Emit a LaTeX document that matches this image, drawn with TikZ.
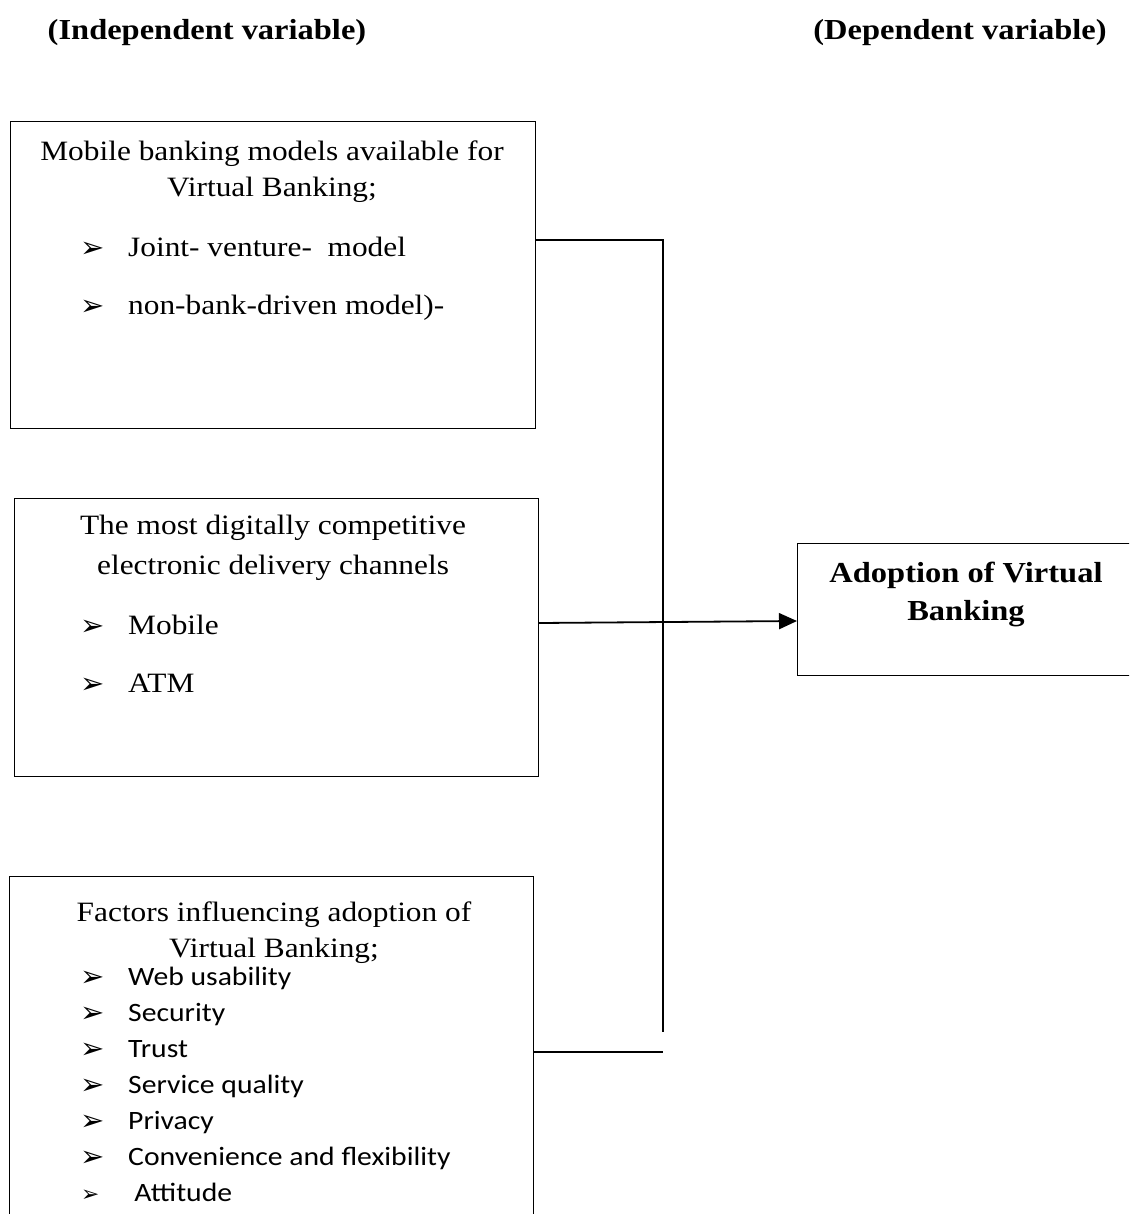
\documentclass[tikz,border=0pt]{standalone}
\usepackage{fontspec}
\setmainfont{Liberation Serif}[FakeStretch=1.12]
\newfontfamily\calibri{Carlito}[FakeStretch=1.12]
\newfontfamily\dingfont{DejaVu Sans}
\usetikzlibrary{arrows.meta}

\newcommand{\bul}[1][48pt]{\makebox[#1][l]{\raisebox{-1pt}{\dingfont\fontsize{29}{29}\selectfont ➢}}}

\tikzstyle{box}=[draw, line width=1.2pt, anchor=north west, inner sep=0pt]
\tikzstyle{txt}=[anchor=base, inner sep=0pt, font=\fontsize{28}{34}\selectfont]
\tikzstyle{item}=[anchor=base west, inner sep=0pt, font=\fontsize{28}{34}\selectfont]
\tikzstyle{citem}=[anchor=base west, inner sep=0pt, font=\calibri\fontsize{26.5}{30}\selectfont]
\tikzstyle{head}=[anchor=base, inner sep=0pt, font=\bfseries\fontsize{29}{34}\selectfont]
\tikzstyle{link}=[line width=1.8pt]

\begin{document}
\begin{tikzpicture}[x=1pt, y=-1pt]
    \useasboundingbox (0,0) rectangle (1129,1214);
    \clip (0,0) rectangle (1129,1214);

    \node[head] (indep) at (207,40) {(Independent variable)};
    \node[head] (dep) at (960,40) {(Dependent variable)};

    \node[box, minimum width=525pt, minimum height=307pt] (models) at (10,121) {};
    \node[box, minimum width=524pt, minimum height=278pt] (channels) at (14,498) {};
    \node[box, minimum width=524pt, minimum height=360pt] (factors) at (9,876) {};
    \node[box, minimum width=360pt, minimum height=132pt] (adopt) at (797,543) {};

    % models
    \node[txt] (m1) at (272,161) {Mobile banking models available for};
    \node[txt] (m2) at (272,197) {Virtual Banking;};
    \node[item] (m3) at (80,257) {\bul Joint- venture-\ \ model};
    \node[item] (m4) at (80,314) {\bul non-bank-driven model)-};

    % channels
    \node[txt] (c1) at (273,534) {The most digitally competitive};
    \node[txt] (c2) at (273,574) {electronic delivery channels};
    \node[item] (c3) at (80,634) {\bul Mobile};
    \node[item] (c4) at (80,692) {\bul ATM};

    % factors
    \node[txt] (f1) at (274,921) {Factors influencing adoption of};
    \node[txt] (f2) at (274,957) {Virtual Banking;};
    \foreach \t [count=\i] in {Web usability, Security, Trust, Service quality,
                               Privacy, Convenience and flexibility}
    {
      \node[citem] (f\i) at (80,949+36*\i) {\bul\t};
    }
    \node[citem] (f7) at (81,1201) {\scalebox{0.75}{\bul[71pt]}Attitude};

    % dependent
    \node[head] (a1) at (966,582) {Adoption of Virtual};
    \node[head] (a2) at (966,620) {Banking};

    \coordinate (jtop) at (663,240);
    \coordinate (jbot) at (663,1032);
    \coordinate (jend) at (663,1052);

    \draw[link] (models.east |- jtop) -- (jtop) -- (jbot);
    \draw[link] (factors.east |- jend) -- (jend);
    \draw[link, -{Triangle[length=18pt, width=16pt]}] (channels.east |- 0,623) -- (adopt.west |- 0,621);
\end{tikzpicture}
\end{document}
